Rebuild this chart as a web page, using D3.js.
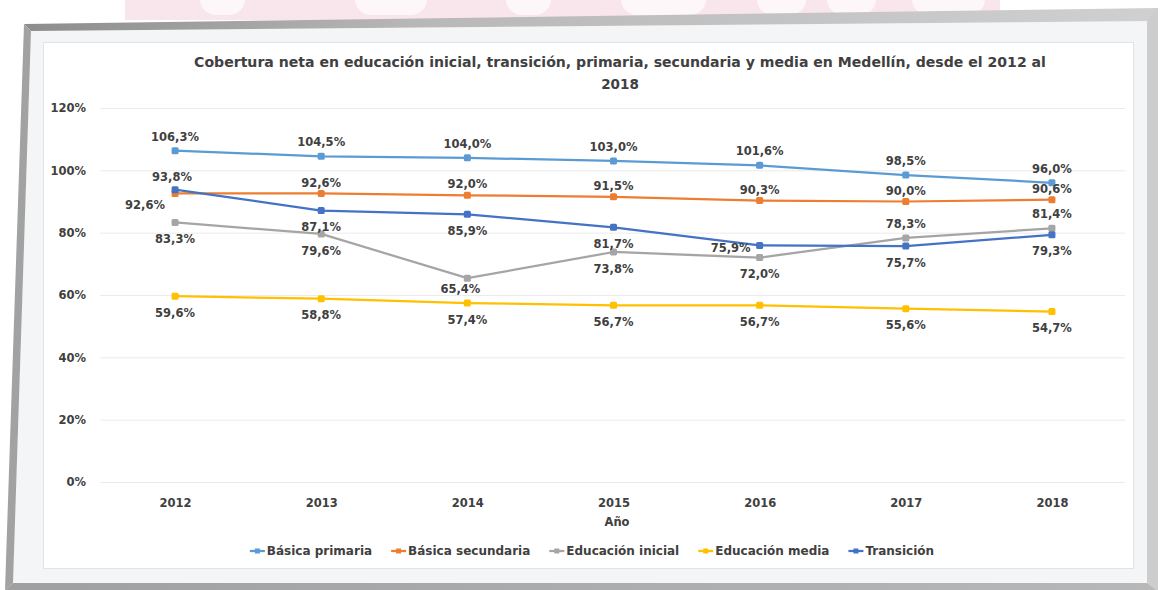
<!DOCTYPE html>
<html lang="es">
<head>
<meta charset="utf-8">
<script src="https://cdn.jsdelivr.net/npm/d3@7"></script>
<style>
  html, body { margin: 0; padding: 0; background: #ffffff; }
  svg { display: block; }
  text { font-family: "DejaVu Sans", "Liberation Sans", sans-serif; font-weight: bold; fill: #404040; }
</style>
</head>
<body>
<svg id="chart" width="1161" height="590"></svg>
<script>
// ---- data ----
const years = ["2012", "2013", "2014", "2015", "2016", "2017", "2018"];
const basicaPrimaria   = [106.3, 104.5, 104.0, 103.0, 101.6, 98.5, 96.0];
const basicaSecundaria = [92.6, 92.6, 92.0, 91.5, 90.3, 90.0, 90.6];
const educacionInicial = [83.3, 79.6, 65.4, 73.8, 72.0, 78.3, 81.4];
const educacionMedia   = [59.6, 58.8, 57.4, 56.7, 56.7, 55.6, 54.7];
const transicion       = [93.8, 87.1, 85.9, 81.7, 75.9, 75.7, 79.3];
const yTicks = [0, 20, 40, 60, 80, 100, 120];
const seriesNames = ["Básica primaria", "Básica secundaria", "Educación inicial", "Educación media", "Transición"];
const titleLines = [
  "Cobertura neta en educación inicial, transición, primaria, secundaria y media en Medellín, desde el 2012 al",
  "2018"
];
const xTitle = "Año";

// ---- styling ----
const colors = ["#5B9BD5", "#ED7D31", "#A5A5A5", "#FFC000", "#4472C4"];
// data-label placement per point: a = above, b = below, l = left, etc.
const labelPlacement = [
  ["a", "a", "a", "a", "a", "a", "a"],
  ["bl", "as", "as", "as", "as", "as", "as"],
  ["b", "b", "bs", "b", "b", "a", "a"],
  ["b", "b", "b", "b", "b", "b", "b"],
  ["al", "b", "b", "b", "l", "b", "b"]
];
const placeOffsets = {
  a:  [0, -14],
  as: [0, -11],
  al: [-3, -13],
  b:  [0, 16.5],
  bs: [-7, 11],
  l:  [-29, 2],
  bl: [-30, 11]
};

const svg = d3.select("#chart");

// ---- watermark band along the top edge ----
const wm = svg.append("g");
wm.append("rect").attr("x", 125).attr("y", 0).attr("width", 875).attr("height", 20).attr("fill", "#f9e6ed");
[[200, 45], [355, 72], [506, 45], [621, 85], [757, 49], [827, 49], [912, 73]].forEach(([x, w]) => {
  wm.append("rect").attr("x", x).attr("y", -20).attr("width", w).attr("height", 35)
    .attr("rx", Math.min(w / 2, 16)).attr("fill", "#fdf7f9");
});

// ---- photo frame around the chart ----
const defs = svg.append("defs");
const gTop = defs.append("linearGradient").attr("id", "topBand").attr("x1", "0").attr("x2", "1");
gTop.append("stop").attr("offset", "0").attr("stop-color", "#8c8c8c");
gTop.append("stop").attr("offset", "0.35").attr("stop-color", "#b8b8b8");
gTop.append("stop").attr("offset", "1").attr("stop-color", "#d0d0d0");
const gBot = defs.append("linearGradient").attr("id", "botBand").attr("x1", "0").attr("x2", "1");
gBot.append("stop").attr("offset", "0").attr("stop-color", "#a0a0a0");
gBot.append("stop").attr("offset", "1").attr("stop-color", "#b8b8b8");

const frame = svg.append("g");
const poly = pts => pts.map(p => p.join(",")).join(" ");
frame.append("polygon").attr("points", poly([[31, 31], [1147, 21], [1147, 583], [13, 583]])).attr("fill", "#f4f5f6");
frame.append("polygon").attr("points", poly([[24, 24], [1158, 8], [1158, 21], [31, 31]])).attr("fill", "url(#topBand)");
frame.append("polygon").attr("points", poly([[24, 24], [31, 31], [13, 583], [5, 590]])).attr("fill", "#a2a2a2");
frame.append("polygon").attr("points", poly([[1147, 21], [1158, 8], [1158, 591], [1147, 583]])).attr("fill", "#cdcdcd");
frame.append("polygon").attr("points", poly([[5, 590], [13, 583], [1147, 583], [1158, 591]])).attr("fill", "url(#botBand)");
frame.append("rect").attr("x", 43.5).attr("y", 42.5).attr("width", 1090).attr("height", 526)
  .attr("fill", "#ffffff").attr("stroke", "#e3e3e3");

// ---- scales ----
const plot = { left: 102, right: 1125, top: 108, bottom: 482 };
const x = d3.scalePoint().domain(years).range([plot.left, plot.right]).padding(0.5);
const y = d3.scaleLinear().domain([0, 120]).range([plot.bottom, plot.top]);

// ---- title ----
const title = svg.append("g");
titleLines.forEach((t, i) => {
  title.append("text").attr("x", 620).attr("y", 62 + i * 22).attr("dy", "0.36em")
    .attr("text-anchor", "middle").attr("font-size", 13.5).attr("fill", "#262626").text(t);
});
// fit the long first line to its span
const t0 = title.select("text").node();
const w0 = t0.getComputedTextLength();
if (w0 > 0) d3.select(t0).attr("font-size", 13.5 * 852 / w0);

// ---- y axis with gridlines ----
const yAxis = svg.append("g").attr("transform", `translate(${plot.left - 2},0)`)
  .call(d3.axisLeft(y).tickValues(yTicks).tickFormat(d => d + "%")
    .tickSize(-(plot.right - plot.left + 2)).tickPadding(14));
yAxis.select(".domain").remove();
yAxis.selectAll(".tick line").attr("stroke", "#ebebeb").attr("stroke-width", 1);
yAxis.selectAll(".tick text").attr("font-size", 11.5).attr("font-family", null).attr("fill", "#404040");

// ---- x axis ----
const xAxis = svg.append("g").attr("transform", `translate(0,${plot.bottom})`)
  .call(d3.axisBottom(x).tickSize(0).tickPadding(17));
xAxis.select(".domain").remove();
xAxis.selectAll(".tick text").attr("font-size", 11.5).attr("font-family", null).attr("fill", "#404040");

svg.append("text").attr("x", 617).attr("y", 522).attr("dy", "0.36em").attr("text-anchor", "middle")
  .attr("font-size", 11.5).text(xTitle);

// ---- series ----
const series = [basicaPrimaria, basicaSecundaria, educacionInicial, educacionMedia, transicion]
  .map((values, i) => ({ name: seriesNames[i], values, color: colors[i], place: labelPlacement[i] }));

const line = d3.line().x((d, i) => x(years[i])).y(d => y(d));
const marks = svg.append("g");
series.forEach(s => {
  const g = marks.append("g");
  g.append("path").attr("d", line(s.values)).attr("fill", "none")
    .attr("stroke", s.color).attr("stroke-width", 2.25).attr("stroke-linejoin", "round");
  g.selectAll("rect").data(s.values).join("rect")
    .attr("x", (d, i) => x(years[i]) - 3.5).attr("y", d => y(d) - 3.5)
    .attr("width", 7).attr("height", 7).attr("rx", 1.5).attr("fill", s.color);
});

// ---- data labels ----
const fmt = v => v.toFixed(1).replace(".", ",") + "%";
const labels = svg.append("g");
series.forEach(s => {
  labels.selectAll(null).data(s.values).join("text")
    .attr("x", (d, i) => x(years[i]) + placeOffsets[s.place[i]][0])
    .attr("y", (d, i) => y(d) + placeOffsets[s.place[i]][1])
    .attr("dy", "0.36em").attr("text-anchor", "middle")
    .attr("font-size", 11.5).attr("fill", "#3a3a3a").text(d => fmt(d));
});

// ---- legend ----
const legend = svg.append("g");
let cx = 0;
series.forEach(s => {
  const g = legend.append("g").attr("transform", `translate(${cx},0)`);
  g.append("line").attr("x1", 0).attr("x2", 15).attr("y1", 0).attr("y2", 0)
    .attr("stroke", s.color).attr("stroke-width", 2.25);
  g.append("rect").attr("x", 5).attr("y", -2.5).attr("width", 5).attr("height", 5).attr("fill", s.color);
  const t = g.append("text").attr("x", 17).attr("y", 0).attr("dy", "0.36em")
    .attr("font-size", 12).attr("fill", "#1e1e1e").text(s.name);
  cx += 17 + t.node().getComputedTextLength() + 19;
});
const legendWidth = cx - 19;
legend.attr("transform", `translate(${592 - legendWidth / 2},551)`);
</script>
</body>
</html>
